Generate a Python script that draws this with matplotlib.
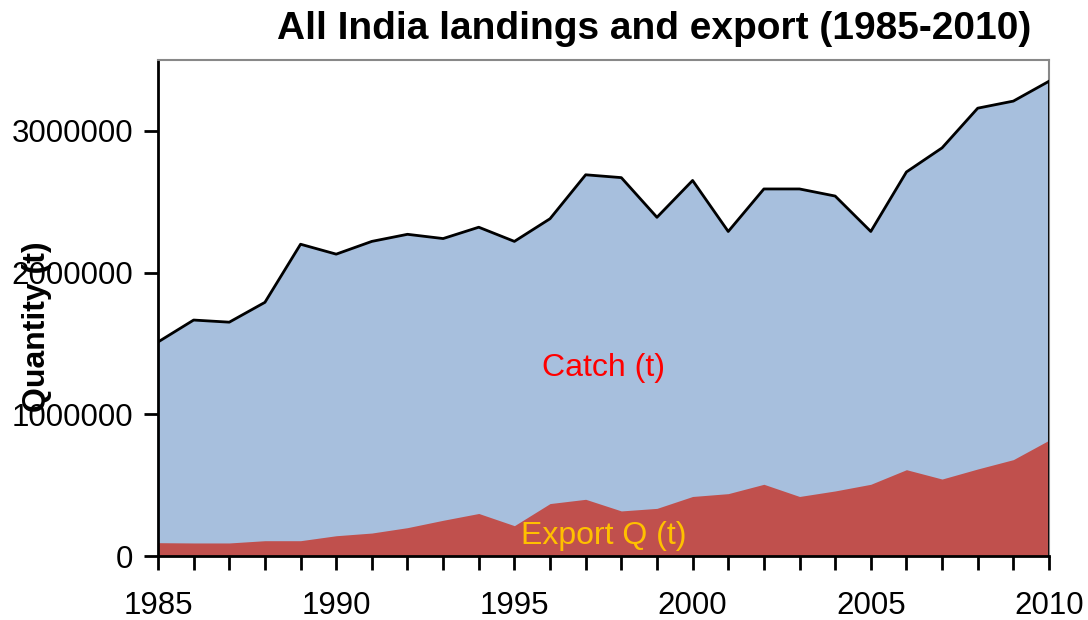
import numpy as np
import matplotlib
matplotlib.use('Agg')
import matplotlib.pyplot as plt
from matplotlib.ticker import MultipleLocator

plt.rcParams['font.family'] = ['Liberation Sans', 'DejaVu Sans']

# Data
years = list(range(1985, 2011))
catch_t = [1510000, 1665000, 1650000, 1790000, 2200000, 2130000, 2220000, 2270000,
           2240000, 2320000, 2220000, 2380000, 2690000, 2670000, 2390000, 2650000,
           2290000, 2590000, 2590000, 2540000, 2290000, 2710000, 2880000, 3160000,
           3210000, 3350000]
export_t = [94000, 92000, 92000, 108000, 108000, 143000, 162000, 200000,
            252000, 300000, 214000, 370000, 400000, 318000, 336000, 420000,
            440000, 506000, 420000, 459000, 506000, 609000, 543000, 614000,
            680000, 817000]
y_ticks = [0, 1000000, 2000000, 3000000]

fig = plt.figure(figsize=(10.88, 6.2), dpi=100)
ax = fig.add_axes([158 / 1088, 64 / 620, 891 / 1088, 496 / 620])

ax.fill_between(years, 0, catch_t, color='#A7BFDD', linewidth=0, zorder=1)
ax.fill_between(years, 0, export_t, color='#C0504D', linewidth=0, zorder=2)
ax.plot(years, catch_t, color='black', linewidth=2, zorder=3)
ax.plot([years[-1], years[-1]], [0, catch_t[-1]], color='black', linewidth=2, zorder=3)

ax.set_xlim(1985, 2010)
ax.set_ylim(0, 3500000)
ax.set_yticks(y_ticks)
ax.set_yticklabels([str(v) for v in y_ticks])
ax.xaxis.set_major_locator(MultipleLocator(5))
ax.xaxis.set_minor_locator(MultipleLocator(1))

ax.tick_params(axis='both', which='both', direction='out', labelsize=22.5,
               width=2, color='black')
ax.tick_params(axis='x', which='major', length=10, pad=15)
ax.tick_params(axis='x', which='minor', length=10)
ax.tick_params(axis='y', length=10, pad=8)

for s in ['left', 'bottom']:
    ax.spines[s].set_linewidth(2)
    ax.spines[s].set_color('black')
for s in ['top', 'right']:
    ax.spines[s].set_linewidth(1.5)
    ax.spines[s].set_color('#888888')

ax.text(1997.5, 1330000, 'Catch (t)', color='#FF0000', fontsize=23,
        ha='center', va='center', zorder=4)
ax.text(1997.5, 140000, 'Export Q (t)', color='#FFC000', fontsize=23,
        ha='center', va='center', zorder=4)

fig.text(37 / 1088, 1 - 327 / 620, 'Quantity (t)', rotation=90, fontsize=23,
         fontweight='bold', ha='center', va='center')
fig.text(654 / 1088, 1 - 29 / 620, 'All India landings and export (1985-2010)',
         fontsize=28, fontweight='bold', ha='center', va='center',
         family=['Liberation Sans Narrow', 'Liberation Sans', 'DejaVu Sans'])

fig.savefig('out.png', dpi=100)
